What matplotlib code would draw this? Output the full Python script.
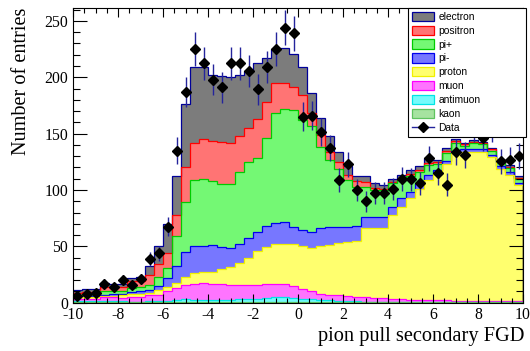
import numpy as np
import matplotlib
matplotlib.use("Agg")
import matplotlib.pyplot as plt
from matplotlib.patches import Patch
from matplotlib.lines import Line2D
from matplotlib.ticker import MultipleLocator

# ---------------- data (50 bins from -10 to 10) ----------------
x_min, x_max, n_bins = -10.0, 10.0, 50

kaon = [.5, .5, .5, .4, .4, .4, .4, .4, .4, .4,
        .4, .5, .6, .5, .5, .5, .5, .5, .5, .5,
        .5, .5, .5, .5, .5, .5, .5, .4, .4, .3,
        .3, .3, .3, .3, .3, .3, .3, .3, .3, .3,
        .3, .3, .3, .3, .3, .3, .3, .3, .3, .3]
antimuon = [1, 1, .8, .8, .8, .7, .6, .6, .8, .8,
            .8, 2, 2.4, 1.5, 1.5, 1.5, 2, 2, 2.5, 3,
            3, 4, 4.5, 4.5, 4, 3, 2.5, 2.1, 1.6, 1.2,
            1, .9, .7, .7, .7, .7, .7, .7, .5, .5,
            .5, .5, .5, .7, .7, .7, .7, .5, .5, .5]
muon = [2, 2, 2.2, 3.5, 3.5, 3.5, 4.5, 4.5, 5.3, 6,
        9, 10.3, 13, 14.6, 15.2, 14.6, 14.1, 13.5, 13, 12.5,
        12.5, 12.5, 12, 12, 10.5, 8.5, 7, 5.5, 5, 5,
        4.7, 4.3, 4, 3.5, 3, 2.5, 2, 1.5, 1.7, 1.2,
        1.2, 1.2, .7, .5, .5, .5, .5, .7, .7, .7]
proton = [1.5, 1.5, 1.5, 1.5, 1.6, 1.8, 2.4, 2.5, 2.2, 3.8,
          4, 4.7, 7, 9.4, 10.3, 10.9, 13, 16, 18.9, 23.4,
          30, 32, 35, 35.5, 37, 38, 38.5, 42, 44.5, 46.5,
          48, 49.5, 61, 61.5, 62, 74.5, 82, 90, 98.5, 107,
          112, 121, 131.5, 132.5, 132.5, 132.5, 127.5, 117.5, 112, 102.5]
pi_minus = [.5, .7, .7, 1, 1.2, 1.3, 2, 2.2, 3, 3.8,
            7.5, 15, 22, 24.3, 22.8, 23.7, 20.1, 16.2, 17.1, 17.6,
            17, 19, 18.3, 19.3, 15.4, 14.5, 14.5, 15.9, 15.5, 14.5,
            13.5, 13, 10, 10, 10, 7, 7.5, 6, 5, 4,
            4, 3, 2, 2, 2, 2, 2.5, 2, 2.5, 2.5]
pi_plus = [1.5, 2, 2, 3, 3, 3, 3, 3.5, 4.4, 8,
           9.3, 26.5, 44.6, 58.6, 59.2, 57.1, 55.3, 56.8, 64, 68,
           65, 78, 97.7, 99.9, 103.7, 97.7, 94, 72.6, 60, 51.5,
           41.5, 35, 27, 24, 24, 21, 16.5, 13.5, 10, 9,
           5.5, 7, 7, 3, 5.5, 4.5, 3.5, 3.5, 3.5, 3]
positron = [1.5, 1.8, 1.8, 4, 3.5, 3, 6, 5.5, 8.4, 11.8,
            13.5, 19, 31.1, 32.5, 35.5, 35.5, 37.9, 37, 32, 29.7,
            35, 32, 26.6, 22.9, 20.6, 22.1, 11, 10.3, 7, 6,
            4, 5, 4, 2, 1, 1, 1, 2, 2, 2,
            1.5, 2, 1.5, 1.5, 1.5, 1, 1, 1, 1, 1]
electron = [2.5, 2.5, 2.5, 3.3, 3, 2.8, 3.1, 3.3, 8.5, 15.4,
            25.5, 34.2, 55.3, 68, 64.4, 58.2, 58.1, 58.5, 54, 51.3,
            50, 39, 30.1, 31, 29.3, 25.1, 18, 15.2, 14, 9,
            8, 4, 5, 4.5, 3, 3, 3, 4, 3, 4,
            2, 2, 1.5, 1.5, 1.5, 1.5, 1, 1.5, 1.5, 1.5]
data = [6, 8, 8.5, 17, 13.5, 20, 16, 21, 39, 44,
        67.5, 135, 187, 225, 212.5, 198, 191, 212.5, 212.5, 205.5,
        189.5, 209, 225, 244, 239, 165, 166, 151.5, 137, 109,
        123, 100, 90, 97, 97, 101, 110, 109.5, 106, 128,
        115, 104.5, 133.5, 131, 155, 146.5, 155, 125.5, 126.5, 130.5]

# stacking order: bottom -> top
labels = ["kaon", "antimuon", "muon", "proton", "pi-", "pi+", "positron", "electron"]
series = [kaon, antimuon, muon, proton, pi_minus, pi_plus, positron, electron]
faces = ["#a6e3a0", "#74fbfb", "#ff74ff", "#ffff6e", "#7777ff", "#74f874", "#ff7474", "#7c7c7c"]
edges_c = ["#5fc35f", "#00e5e5", "#ff00ff", "#f0f000", "#0000ee", "#00cc00", "#ff0000", "#000099"]

# ---------------- figure ----------------
plt.rcParams["axes.unicode_minus"] = False
serif = ["Liberation Serif", "DejaVu Serif"]
sans = ["Liberation Sans", "DejaVu Sans"]

fig = plt.figure(figsize=(5.30, 3.51), dpi=100)
ax = fig.add_axes([73 / 530, 48.3 / 351, 450 / 530, 294.7 / 351])

bin_edges = np.linspace(x_min, x_max, n_bins + 1)
centers = 0.5 * (bin_edges[:-1] + bin_edges[1:])
cum = np.cumsum(np.array(series, dtype=float), axis=0)

# ROOT-like THStack drawing: top cumulative first, lower ones over it
for k in range(len(series) - 1, -1, -1):
    ax.stairs(cum[k], bin_edges, baseline=0, fill=True, facecolor=faces[k],
              edgecolor="none", linewidth=0, zorder=1)
    ax.stairs(cum[k], bin_edges, baseline=0, fill=False, color=edges_c[k],
              linewidth=0.9, zorder=1.5)

data_arr = np.array(data, dtype=float)
ax.errorbar(centers, data_arr, yerr=np.sqrt(data_arr), fmt="D", color="black",
            markersize=4.6, ecolor="#24249c", elinewidth=1.0, capsize=0, zorder=3)

ax.set_xlim(x_min, x_max)
ax.set_ylim(0, 261.5)

ax.xaxis.set_major_locator(MultipleLocator(2))
ax.xaxis.set_minor_locator(MultipleLocator(0.5))
ax.yaxis.set_major_locator(MultipleLocator(50))
ax.yaxis.set_minor_locator(MultipleLocator(10))
ax.tick_params(axis="both", which="both", direction="in", top=True, right=True,
               width=0.8, colors="black")
ax.tick_params(axis="x", which="major", length=6.5, pad=3.0)
ax.tick_params(axis="x", which="minor", length=3.3)
ax.tick_params(axis="y", which="major", length=10, pad=3.6)
ax.tick_params(axis="y", which="minor", length=5)
for lab in ax.get_xticklabels() + ax.get_yticklabels():
    lab.set_family(serif)
    lab.set_fontsize(11.3)
for sp in ax.spines.values():
    sp.set_linewidth(0.8)

ax.set_xlabel("pion pull secondary FGD", family=serif, fontsize=14.7, loc="right")
ax.xaxis.set_label_coords(1.004, -0.082)
ax.set_ylabel("Number of entries", family=serif, fontsize=14.6, loc="top")
ax.yaxis.set_label_coords(-0.093, 1.0)

# legend (same order as reference: top of stack first)
handles = []
for k in range(len(series) - 1, -1, -1):
    handles.append(Patch(facecolor=faces[k], edgecolor=edges_c[k], linewidth=0.9,
                         label=labels[k]))
handles.append(Line2D([], [], color="#24249c", lw=1.0, marker="D", markersize=4.6,
                      markerfacecolor="black", markeredgecolor="black", label="Data"))
leg_w = 118 / 450
leg_h = 126 / 294.7
leg = ax.legend(handles=handles, loc="upper left",
                bbox_to_anchor=((408 - 73) / 450, 1.0 - leg_h, leg_w, leg_h),
                mode="expand", borderaxespad=0, borderpad=0.35, labelspacing=0.37,
                handlelength=2.15, handleheight=1.0, handletextpad=0.45,
                frameon=True, fancybox=False, framealpha=1, edgecolor="black",
                prop={"family": sans, "size": 7.4})
leg.get_frame().set_linewidth(0.8)
leg.set_zorder(10)

fig.savefig("out.png", dpi=100)
